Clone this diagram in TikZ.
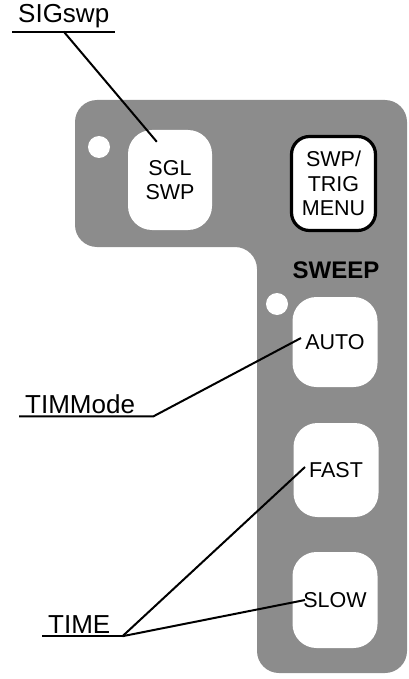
\documentclass[tikz,border=0pt]{standalone}
\usepackage{fontspec}
\setmainfont{Liberation Sans}
\usetikzlibrary{positioning,calc}
\definecolor{panelgray}{HTML}{8C8C8C}

\begin{document}
\begin{tikzpicture}[x=1pt,y=-1pt,
  btn/.style={fill=white, rounded corners=24pt, minimum width=85pt, minimum height=94pt, inner sep=0pt, align=center, font=\fontsize{21.5}{24.5}\selectfont},
  lbl/.style={anchor=base west, inner xsep=6pt, inner ysep=3pt, font=\fontsize{26}{30}\selectfont},
  leader/.style={line width=2pt},
  hole/.style={circle, fill=white, minimum size=22pt, inner sep=0pt}]
\useasboundingbox (0,0) rectangle (409,679);
% front panel
\fill[panelgray, rounded corners=22pt] (75,100) -- (407,100) -- (407,673) -- (257,673) -- (257,247) -- (75,247) -- cycle;
\node[hole] (hole1) at (99,147) {};
\node[hole] (hole2) at (277,304) {};
% keys
\node[btn, minimum width=84pt, minimum height=100pt] (sglswp) at (170,180) {SGL\\SWP};
\node[btn, draw, line width=3.2pt, minimum width=84pt, minimum height=94pt, rounded corners=18pt] (trigmenu) at (333.5,183.5) {SWP/\\TRIG\\MENU};
\node[font=\fontsize{24}{28}\selectfont\bfseries] (sweep) at (336,270) {SWEEP};
\node[btn, minimum height=90pt] (auto) at (335,342) {AUTO};
\node[btn] (fast) at (336,470) {FAST};
\node[btn, minimum height=96pt] (slow) at (335,600) {SLOW};
% labels
\node[lbl] (sigswp) at (12,23) {SIGswp};
\node[lbl] (timmode) at (19,413) {TIMMode};
\node[lbl] (time) at (42,633) {TIME};
% leaders
\draw[leader] (sigswp.south west) -- (sigswp.south east);
\draw[leader] (sigswp.south) -- ([shift={(29,12)}]sglswp.north west);
\draw[leader] (timmode.south west) -- ([xshift=12pt]timmode.south east) -- ([shift={(-34,-4)}]auto.center);
\draw[leader] (time.south west) -- ([xshift=6pt]time.south east) coordinate (timeknee);
\draw[leader] (timeknee) -- ([shift={(-31,-3)}]fast.center);
\draw[leader] (timeknee) -- ([xshift=-30pt]slow.center);
\end{tikzpicture}
\end{document}
